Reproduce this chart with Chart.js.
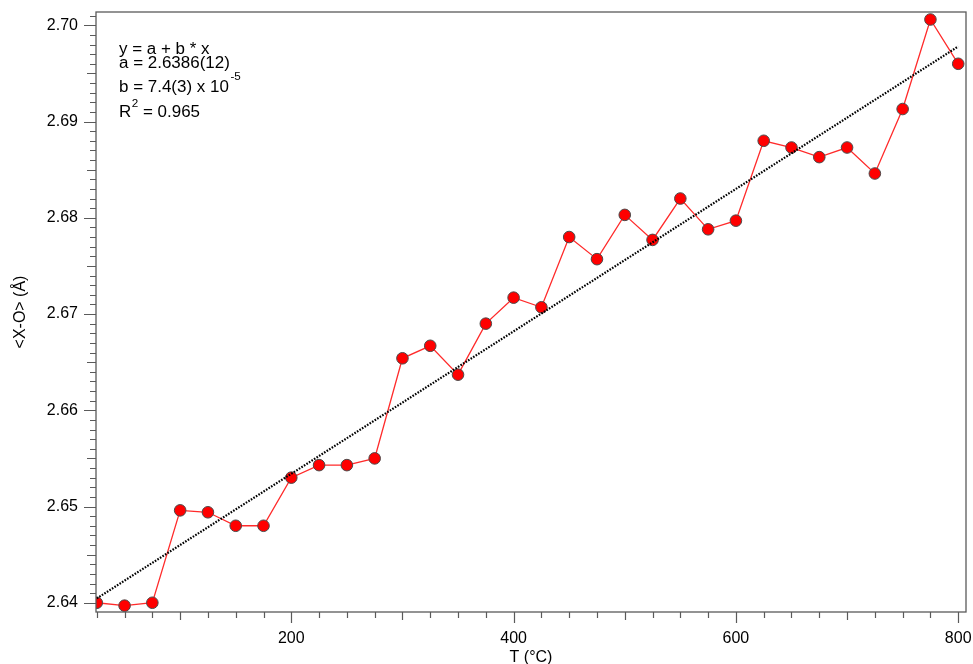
<!DOCTYPE html>
<html>
<head>
<meta charset="utf-8">
<script src="https://cdn.jsdelivr.net/npm/chart.js@4/dist/chart.umd.min.js"></script>
<style>
  html, body { margin: 0; padding: 0; background: #ffffff; }
  #chart { display: block; }
</style>
</head>
<body>
<canvas id="chart" width="973" height="664"></canvas>
<script>
// Mean X–O bond length versus temperature, with its linear fit.
const temperatures = [25, 50, 75, 100, 125, 150, 175, 200, 225, 250, 275, 300, 325, 350, 375, 400,
                      425, 450, 475, 500, 525, 550, 575, 600, 625, 650, 675, 700, 725, 750, 775, 800];
const distances = [2.6400, 2.6397, 2.6400, 2.6496, 2.6494, 2.6480, 2.6480, 2.6530,
                   2.6543, 2.6543, 2.6550, 2.6654, 2.6667, 2.6637, 2.6690, 2.6717,
                   2.6707, 2.6780, 2.6757, 2.6803, 2.6777, 2.6820, 2.6788, 2.6797,
                   2.6880, 2.6873, 2.6863, 2.6873, 2.6846, 2.6913, 2.7006, 2.6960];

// Fit parameters y = a + b * x
const fitA = 2.6386;
const fitB = 7.4e-5;
const fitRange = [25, 800];

const xTickLabels = [200, 400, 600, 800];
const yTickLabels = [2.64, 2.65, 2.66, 2.67, 2.68, 2.69, 2.70];

const xLimits = [24.3, 807];
const yLimits = [2.63904, 2.70138];

const fitText = {
  line1: 'y = a + b * x',
  line2: 'a = 2.6386(12)',
  line3: 'b = 7.4(3) x 10',
  line3sup: '-5',
  line4: 'R',
  line4sup: '2',
  line4rest: ' = 0.965'
};

const FONT = '"Liberation Sans", Arial, Helvetica, sans-serif';
const AXIS_COLOR = '#5a5a5a';

// Frame around the plot plus tiered tick marks (minor / medium / major).
const framePlugin = {
  id: 'frameAndTicks',
  afterDraw(chart) {
    const { ctx, chartArea: a, scales } = chart;
    const xs = scales.x, ys = scales.y;
    ctx.save();
    ctx.strokeStyle = AXIS_COLOR;
    ctx.lineWidth = 1.3;
    ctx.strokeRect(a.left, a.top, a.right - a.left, a.bottom - a.top);

    ctx.lineWidth = 1.2;
    ctx.beginPath();
    // y ticks every 0.001
    const kMin = Math.ceil(ys.min / 0.001 - 1e-6);
    const kMax = Math.floor(ys.max / 0.001 + 1e-6);
    for (let k = kMin; k <= kMax; k++) {
      const len = (k % 10 === 0) ? 12 : (k % 5 === 0 ? 9 : 6);
      const py = Math.round(ys.getPixelForValue(k * 0.001)) + 0.5;
      ctx.moveTo(a.left - len, py);
      ctx.lineTo(a.left, py);
    }
    // x ticks every 25
    const jMin = Math.ceil(xs.min / 25);
    const jMax = Math.floor(xs.max / 25);
    for (let j = jMin; j <= jMax; j++) {
      const v = j * 25;
      const len = (v % 200 === 0) ? 11 : (v % 100 === 0 ? 8 : 6);
      const px = Math.round(xs.getPixelForValue(v)) + 0.5;
      ctx.moveTo(px, a.bottom);
      ctx.lineTo(px, a.bottom + len);
    }
    ctx.stroke();
    ctx.restore();
  }
};

// Fit summary text block in the upper left of the plot.
const fitTextPlugin = {
  id: 'fitText',
  afterDraw(chart) {
    const { ctx } = chart;
    const sx = 1.06;
    const x0 = 119;
    ctx.save();
    ctx.translate(x0, 0);
    ctx.scale(sx, 1);
    ctx.fillStyle = '#000000';
    ctx.textBaseline = 'alphabetic';
    ctx.textAlign = 'left';
    const main = '16px ' + FONT;
    const sup = '11px ' + FONT;
    ctx.font = main;
    ctx.fillText(fitText.line1, 0, 53.5);
    ctx.fillText(fitText.line2, 0, 67.5);
    ctx.fillText(fitText.line3, 0, 92);
    const w3 = ctx.measureText(fitText.line3).width;
    ctx.fillText(fitText.line4, 0, 116.5);
    const wR = ctx.measureText(fitText.line4).width;
    ctx.font = sup;
    ctx.fillText(fitText.line3sup, w3 + 1.5, 80);
    ctx.fillText(fitText.line4sup, wR + 0.5, 107);
    const wSup = ctx.measureText(fitText.line4sup).width;
    ctx.font = main;
    ctx.fillText(fitText.line4rest, wR + wSup + 0.5, 116.5);
    ctx.restore();
  }
};

// Scales reserve no extra room for overhanging end labels.
function clearPadding(s) {
  s.paddingLeft = 0;
  s.paddingRight = 0;
  s.paddingTop = 0;
  s.paddingBottom = 0;
}

const fitLine = fitRange.map(t => ({ x: t, y: fitA + fitB * t }));
const points = temperatures.map((t, i) => ({ x: t, y: distances[i] }));

new Chart(document.getElementById('chart'), {
  type: 'line',
  data: {
    datasets: [
      {
        label: 'fit',
        data: fitLine,
        borderColor: '#000000',
        borderWidth: 2.2,
        borderDash: [1.6, 1.4],
        pointRadius: 0,
        fill: false,
        order: 0
      },
      {
        label: '<X-O>',
        data: points,
        borderColor: '#ff2a2a',
        borderWidth: 1.3,
        pointRadius: 5.8,
        pointBackgroundColor: '#ff0000',
        pointBorderColor: '#4a4a4a',
        pointBorderWidth: 1,
        fill: false,
        tension: 0,
        order: 1
      }
    ]
  },
  options: {
    responsive: false,
    animation: false,
    devicePixelRatio: 1,
    layout: { padding: { top: 12, right: 7, left: 0, bottom: 0 } },
    plugins: {
      legend: { display: false },
      tooltip: { enabled: false }
    },
    scales: {
      x: {
        type: 'linear',
        position: 'bottom',
        min: xLimits[0],
        max: xLimits[1],
        afterBuildTicks: s => { s.ticks = xTickLabels.map(v => ({ value: v })); },
        afterFit: s => { s.height = 52; clearPadding(s); },
        grid: { display: false, drawTicks: false, tickLength: 0 },
        border: { display: false },
        ticks: {
          autoSkip: false,
          maxRotation: 0,
          padding: 17,
          color: '#000000',
          font: { family: FONT, size: 16 },
          callback: v => String(v)
        },
        title: {
          display: true,
          text: 'T (°C)',
          color: '#000000',
          font: { family: FONT, size: 16, lineHeight: 0.8 },
          padding: { top: 0, bottom: 0 }
        }
      },
      y: {
        type: 'linear',
        position: 'left',
        min: yLimits[0],
        max: yLimits[1],
        afterBuildTicks: s => { s.ticks = yTickLabels.map(v => ({ value: v })); },
        afterFit: s => { s.width = 96; clearPadding(s); },
        grid: { display: false, drawTicks: false, tickLength: 0 },
        border: { display: false },
        ticks: {
          autoSkip: false,
          padding: 18,
          color: '#000000',
          font: { family: FONT, size: 16 },
          callback: v => Number(v).toFixed(2)
        },
        title: {
          display: true,
          text: '<X-O> (Å)',
          color: '#000000',
          font: { family: FONT, size: 16 },
          padding: { top: 11, bottom: 0 }
        }
      }
    }
  },
  plugins: [framePlugin, fitTextPlugin]
});
</script>
</body>
</html>
